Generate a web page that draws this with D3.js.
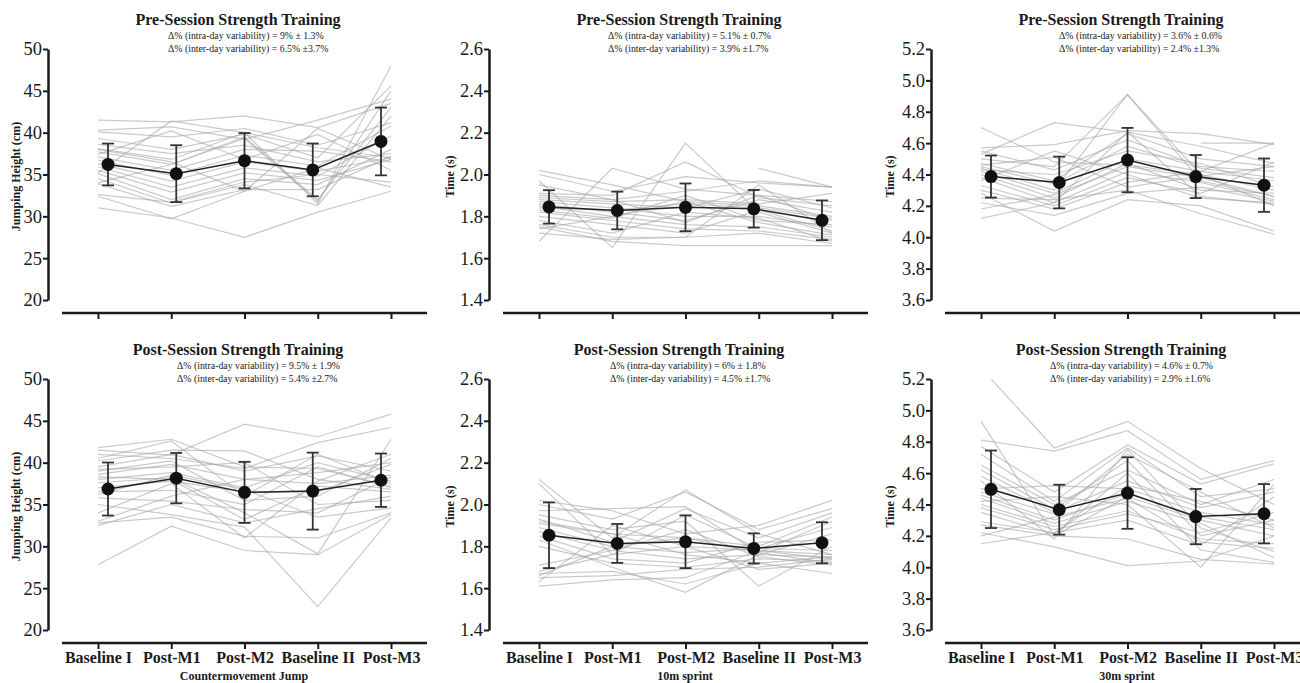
<!DOCTYPE html>
<html lang="en">
<head>
<meta charset="UTF-8">
<title>Intra- and inter-day variability</title>
<script src="https://d3js.org/d3.v7.min.js"></script>
<style>
  body { margin: 0; background: #fff; }
  svg, svg text { font-family: "Liberation Serif", "DejaVu Serif", "Times New Roman", serif; }
</style>
</head>
<body>
<svg id="chart" width="1300" height="683"></svg>
<script>
// categories & ticks
var categories = ["Baseline I", "Post-M1", "Post-M2", "Baseline II", "Post-M3"];
var cmjTicks = [20, 25, 30, 35, 40, 45, 50];
var sprint10Ticks = [1.4, 1.6, 1.8, 2.0, 2.2, 2.4, 2.6];
var sprint30Ticks = [3.6, 3.8, 4.0, 4.2, 4.4, 4.6, 4.8, 5.0, 5.2];

// group means and SD
var cmjPreMean = [36.2, 35.1, 36.65, 35.55, 38.95];
var cmjPreSD = [2.5, 3.4, 3.3, 3.15, 4.05];
var cmjPostMean = [36.85, 38.15, 36.45, 36.6, 37.9];
var cmjPostSD = [3.17, 3.01, 3.65, 4.6, 3.19];
var sp10PreMean = [1.845, 1.828, 1.843, 1.836, 1.781];
var sp10PreSD = [0.080, 0.090, 0.114, 0.090, 0.095];
var sp10PostMean = [1.853, 1.814, 1.822, 1.790, 1.817];
var sp10PostSD = [0.157, 0.093, 0.126, 0.072, 0.098];
var sp30PreMean = [4.387, 4.349, 4.492, 4.387, 4.332];
var sp30PreSD = [0.134, 0.165, 0.205, 0.137, 0.170];
var sp30PostMean = [4.497, 4.367, 4.473, 4.323, 4.341];
var sp30PostSD = [0.247, 0.159, 0.228, 0.176, 0.189];

// individual players (BI, M1, M2, BII, M3)
var cmjPre = [
  [41.5, 41.3, 42.0, 40.6, 43.5], [40.3, 40.7, 39.2, 41.5, 44.0], [40.1, 39.5, 40.5, 38.5, 41.2],
  [39.3, 38.0, 39.8, 37.0, 45.6], [38.6, 37.5, 38.5, 36.5, 37.5], [38.1, 36.8, 40.0, 31.5, 48.0],
  [37.7, 36.2, 39.5, 32.0, 43.0], [37.1, 35.5, 38.0, 37.8, 36.5], [36.7, 34.9, 37.3, 36.0, 40.8],
  [36.3, 34.2, 36.5, 35.4, 37.0], [35.9, 33.5, 35.8, 34.8, 39.6], [35.5, 32.9, 35.2, 34.3, 36.8],
  [35.1, 32.0, 34.5, 33.8, 38.0], [34.5, 31.6, 33.8, 31.3, 42.0], [33.9, 31.2, 33.2, 33.2, 37.2],
  [32.6, 31.7, 34.1, 35.0, 34.1], [32.4, 29.7, 33.0, 35.8, 33.5], [31.0, 29.8, 27.5, 30.5, 33.0],
  [37.4, 40.2, 36.8, 39.8, 35.5], [35.2, 41.4, 40.0, 38.2, 37.0], [38.0, 36.5, 33.0, 40.5, 36.8],
  [34.0, 36.2, 39.3, 31.8, 45.0]
];
var cmjPost = [
  [41.8, 42.8, 39.5, 39.3, 37.2], [41.5, 40.9, 44.6, 43.1, 45.8], [41.0, 40.5, 39.3, 42.4, 44.2],
  [40.2, 41.5, 41.4, 38.0, 36.8], [39.5, 41.0, 39.0, 40.8, 39.0], [39.0, 40.2, 35.5, 36.0, 40.5],
  [38.6, 39.8, 38.0, 37.5, 38.5], [38.0, 38.8, 37.0, 40.0, 37.8], [37.6, 38.2, 34.0, 29.1, 42.8],
  [37.0, 37.8, 36.5, 36.5, 39.8], [36.5, 36.7, 35.0, 39.5, 37.0], [35.8, 35.4, 34.4, 34.0, 38.3],
  [35.0, 33.8, 32.3, 22.8, 33.4], [33.0, 36.0, 38.0, 38.8, 40.0], [32.8, 33.5, 31.2, 31.0, 34.0],
  [32.5, 35.0, 32.8, 34.5, 36.0], [27.8, 32.4, 29.5, 29.0, 33.8], [40.5, 42.6, 36.0, 41.0, 37.5],
  [39.2, 39.5, 40.0, 35.0, 35.5], [34.0, 37.5, 31.0, 37.8, 41.0], [36.2, 38.5, 36.8, 33.5, 34.6],
  [38.3, 38.0, 33.2, 37.2, 36.5]
];
var sp10Pre = [
  [2.02, 1.95, 1.87, 1.85, 1.80], [2.00, 1.92, 1.99, 1.96, 1.94], [1.97, 1.65, 2.15, 1.82, 1.72],
  [1.68, 2.03, 1.93, 1.90, 1.78], [1.91, 1.90, 2.06, 1.89, 1.85], [1.90, 1.88, 1.92, 1.97, 1.94],
  [1.89, 1.87, 1.88, 1.86, 1.91], [1.88, 1.86, 1.84, 1.93, 1.84], [1.87, 1.84, 1.80, 1.80, 1.75],
  [1.86, 1.82, 1.78, 1.88, 1.82], [1.85, 1.80, 1.76, 1.75, 1.70], [1.84, 1.83, 1.86, 1.84, 1.79],
  [1.83, 1.79, 1.90, 1.78, 1.76], [1.82, 1.78, 1.74, 1.73, 1.69], [1.80, 1.76, 1.72, 1.83, 1.73],
  [1.78, 1.72, 1.82, 1.79, 1.68], [1.76, 1.70, 1.70, 1.72, 1.67], [1.75, 1.68, 1.66, 1.66, 1.66],
  [1.74, 1.80, 1.87, 1.77, 1.71], [1.72, 1.69, 1.70, 1.95, 1.72], [null, null, null, 2.03, 1.94],
  [1.95, 1.88, 1.77, 1.90, 1.87]
];
var sp10Post = [
  [2.12, 1.84, 2.07, 1.86, 1.76], [2.10, 1.76, 1.80, 1.78, 1.74], [2.02, 1.97, 1.86, 1.90, 2.02],
  [2.00, 1.93, 2.06, 1.88, 1.98], [1.97, 1.98, 1.99, 1.77, 1.72], [1.95, 1.88, 1.92, 1.61, 1.80],
  [1.93, 1.82, 1.98, 1.84, 1.96], [1.91, 1.86, 1.84, 1.80, 1.94], [1.89, 1.80, 1.77, 1.79, 1.89],
  [1.87, 1.78, 1.74, 1.76, 1.86], [1.85, 1.74, 1.72, 1.82, 1.83], [1.83, 1.70, 1.58, 1.76, 1.75],
  [1.80, 1.72, 1.70, 1.74, 1.73], [1.71, 1.78, 1.88, 1.75, 1.71], [1.68, 1.76, 1.95, 1.79, 1.78],
  [1.67, 1.68, 1.62, 1.72, 1.67], [1.66, 1.80, 1.84, 1.77, 1.92], [1.65, 1.66, 1.69, 1.70, 1.74],
  [1.63, 1.90, 1.80, 1.69, 1.72], [1.61, 1.64, 1.65, 1.78, 1.76], [1.92, 1.86, 1.76, 1.72, 1.75]
];
var sp30Pre = [
  [4.70, 4.48, 4.46, 4.40, 4.30], [4.57, 4.59, 4.68, 4.66, 4.59], [4.55, 4.43, 4.62, 4.45, 4.42],
  [4.53, 4.73, 4.67, 4.58, 4.47], [4.50, 4.45, 4.91, 4.40, 4.20], [4.47, 4.36, 4.66, 4.50, 4.45],
  [4.45, 4.34, 4.58, 4.44, 4.38], [4.44, 4.30, 4.91, 4.36, 4.26], [4.43, 4.40, 4.55, 4.47, 4.32],
  [4.42, 4.28, 4.50, 4.42, 4.60], [4.40, 4.25, 4.47, 4.30, 4.28], [4.38, 4.22, 4.42, 4.35, 4.24],
  [4.36, 4.55, 4.40, 4.25, 4.22], [4.33, 4.20, 4.38, 4.28, 4.48], [4.30, 4.18, 4.35, 4.42, 4.36],
  [4.28, 4.04, 4.24, 4.20, 4.04], [4.25, 4.24, 4.30, 4.15, 4.02], [4.22, 4.14, 4.28, 4.32, 4.23],
  [4.18, 4.27, 4.45, 4.38, 4.26], [4.12, 4.22, 4.67, 4.26, 4.21], [null, null, null, 4.60, 4.60],
  [4.46, 4.51, 4.32, 4.39, 4.45]
];
var sp30Post = [
  [5.27, 4.76, 4.93, 4.63, 4.40], [4.93, 4.20, 4.45, 4.30, 4.20], [4.81, 4.74, 4.87, 4.56, 4.68],
  [4.77, 4.48, 4.78, 4.53, 4.66], [4.72, 4.42, 4.76, 4.45, 4.50], [4.65, 4.40, 4.62, 4.40, 4.56],
  [4.62, 4.37, 4.68, 4.20, 4.30], [4.58, 4.35, 4.55, 4.38, 4.48], [4.55, 4.18, 4.75, 4.25, 4.10],
  [4.50, 4.52, 4.50, 4.35, 4.27], [4.46, 4.30, 4.47, 4.32, 4.24], [4.44, 4.28, 4.42, 4.28, 4.06],
  [4.42, 4.45, 4.40, 4.00, 4.53], [4.40, 4.26, 4.36, 4.18, 4.15], [4.38, 4.24, 4.34, 4.22, 4.35],
  [4.35, 4.21, 4.60, 4.11, 4.03], [4.29, 4.22, 4.30, 4.14, 4.45], [4.27, 4.20, 4.18, 4.05, 4.02],
  [4.22, 4.13, 4.01, 4.04, 4.20], [4.15, 4.22, 4.52, 4.42, 4.30], [4.20, 4.32, 4.44, 4.16, 4.12],
  [4.48, 4.34, 4.72, 4.48, 4.25]
];

var preTitle = "Pre-Session Strength Training";
var postTitle = "Post-Session Strength Training";
var cmjNotes = [["Δ% (intra-day variability) = 9% ± 1.3%", "Δ% (inter-day variability) = 6.5% ±3.7%"],
                ["Δ% (intra-day variability) = 9.5% ± 1.9%", "Δ% (inter-day variability) = 5.4% ±2.7%"]];
var sp10Notes = [["Δ% (intra-day variability) = 5.1% ± 0.7%", "Δ% (inter-day variability) = 3.9% ±1.7%"],
                 ["Δ% (intra-day variability) = 6% ± 1.8%", "Δ% (inter-day variability) = 4.5% ±1.7%"]];
var sp30Notes = [["Δ% (intra-day variability) = 3.6% ± 0.6%", "Δ% (inter-day variability) = 2.4% ±1.3%"],
                 ["Δ% (intra-day variability) = 4.6% ± 0.7%", "Δ% (inter-day variability) = 2.9% ±1.6%"]];
var testNames = ["Countermovement Jump", "10m sprint", "30m sprint"];

// layout
var colX = [48, 489, 931];
var rowTop = [49, 379];
var rowBottom = [300, 630];
var yLabelX = [16, 450, 890];
var serif = "'Liberation Serif', 'DejaVu Serif', serif";

var panels = [
  {row: 0, col: 0, title: preTitle, notes: cmjNotes[0], noteX: 120, yLabel: "Jumping Height (cm)", dom: [20, 50], ticks: cmjTicks, fmt: d3.format("d"), subj: cmjPre, mean: cmjPreMean, sd: cmjPreSD},
  {row: 0, col: 1, title: preTitle, notes: sp10Notes[0], noteX: 119, yLabel: "Time (s)", dom: [1.4, 2.6], ticks: sprint10Ticks, fmt: d3.format(".1f"), subj: sp10Pre, mean: sp10PreMean, sd: sp10PreSD},
  {row: 0, col: 2, title: preTitle, notes: sp30Notes[0], noteX: 128, yLabel: "Time (s)", dom: [3.6, 5.2], ticks: sprint30Ticks, fmt: d3.format(".1f"), subj: sp30Pre, mean: sp30PreMean, sd: sp30PreSD},
  {row: 1, col: 0, title: postTitle, notes: cmjNotes[1], noteX: 129, yLabel: "Jumping Height (cm)", dom: [20, 50], ticks: cmjTicks, fmt: d3.format("d"), subj: cmjPost, mean: cmjPostMean, sd: cmjPostSD},
  {row: 1, col: 1, title: postTitle, notes: sp10Notes[1], noteX: 121, yLabel: "Time (s)", dom: [1.4, 2.6], ticks: sprint10Ticks, fmt: d3.format(".1f"), subj: sp10Post, mean: sp10PostMean, sd: sp10PostSD},
  {row: 1, col: 2, title: postTitle, notes: sp30Notes[1], noteX: 119, yLabel: "Time (s)", dom: [3.6, 5.2], ticks: sprint30Ticks, fmt: d3.format(".1f"), subj: sp30Post, mean: sp30PostMean, sd: sp30PostSD}
];

var svg = d3.select("#chart");
var ink = "#1a1a1a";

panels.forEach(function(p, k) {
  var ax = colX[p.col], top = rowTop[p.row], bot = rowBottom[p.row];
  var g = svg.append("g");

  var y = d3.scaleLinear().domain(p.dom).range([bot, top]);
  var xs = d3.scalePoint().domain(categories).range([ax + 50, ax + 343]);
  var xm = d3.scalePoint().domain(categories).range([ax + 60, ax + 333]);

  svg.append("clipPath").attr("id", "clip" + k)
    .append("rect").attr("x", ax).attr("y", top).attr("width", 400).attr("height", bot - top);

  // individual players
  var line = d3.line()
    .defined(function(d) { return d != null; })
    .x(function(d, i) { return xs(categories[i]); })
    .y(function(d) { return y(d); });
  g.append("g").attr("clip-path", "url(#clip" + k + ")")
    .selectAll("path").data(p.subj).enter().append("path")
    .attr("d", line)
    .attr("fill", "none")
    .attr("stroke", "#a6a6a6")
    .attr("stroke-opacity", 0.6)
    .attr("stroke-width", 1.2);

  // y axis
  var yAxis = g.append("g")
    .attr("transform", "translate(" + ax + ",0)")
    .call(d3.axisLeft(y).tickValues(p.ticks).tickFormat(p.fmt).tickSize(5).tickSizeOuter(0).tickPadding(1));
  yAxis.attr("font-family", serif).attr("font-size", null);
  yAxis.select(".domain").attr("stroke", ink).attr("stroke-width", 2.5);
  yAxis.selectAll(".tick line").attr("stroke", ink).attr("stroke-width", 2);
  yAxis.selectAll(".tick text").attr("fill", ink).style("font-size", "18.5px");

  // x axis
  var xAxis = g.append("g")
    .attr("transform", "translate(0," + (bot + 13) + ")")
    .call(d3.axisBottom(xs).tickSize(6).tickSizeOuter(0).tickPadding(3));
  xAxis.attr("font-family", serif).attr("font-size", null);
  xAxis.select(".domain").remove();
  xAxis.selectAll(".tick line").attr("stroke", ink).attr("stroke-width", 2);
  g.append("line")
    .attr("x1", ax + 14).attr("x2", ax + 379)
    .attr("y1", bot + 13).attr("y2", bot + 13)
    .attr("stroke", ink).attr("stroke-width", 2.5);
  if (p.row === 0) {
    xAxis.selectAll(".tick text").remove();
  } else {
    xAxis.selectAll(".tick text").attr("fill", ink)
      .style("font-size", "16px").style("font-weight", "bold");
    g.append("text")
      .attr("x", ax + 196).attr("y", 680)
      .attr("text-anchor", "middle")
      .style("font-size", "12px").style("font-weight", "bold")
      .attr("fill", ink)
      .text(testNames[p.col]);
  }

  // error bars
  var eb = g.append("g").selectAll("g").data(p.mean).enter().append("g");
  eb.append("line")
    .attr("x1", function(d, i) { return xm(categories[i]); })
    .attr("x2", function(d, i) { return xm(categories[i]); })
    .attr("y1", function(d, i) { return y(d - p.sd[i]); })
    .attr("y2", function(d, i) { return y(d + p.sd[i]); })
    .attr("stroke", "#333").attr("stroke-width", 1.8);
  [-1, 1].forEach(function(s) {
    eb.append("line")
      .attr("x1", function(d, i) { return xm(categories[i]) - 6; })
      .attr("x2", function(d, i) { return xm(categories[i]) + 6; })
      .attr("y1", function(d, i) { return y(d + s * p.sd[i]); })
      .attr("y2", function(d, i) { return y(d + s * p.sd[i]); })
      .attr("stroke", "#333").attr("stroke-width", 1.8);
  });

  // mean line + dots
  g.append("path")
    .datum(p.mean)
    .attr("d", d3.line().x(function(d, i) { return xm(categories[i]); }).y(function(d) { return y(d); }))
    .attr("fill", "none").attr("stroke", "#222").attr("stroke-width", 1.5);
  g.append("g").selectAll("circle").data(p.mean).enter().append("circle")
    .attr("cx", function(d, i) { return xm(categories[i]); })
    .attr("cy", function(d) { return y(d); })
    .attr("r", 6.5)
    .attr("fill", "#111");

  // titles
  g.append("text")
    .attr("x", ax + 190).attr("y", top - 24)
    .attr("text-anchor", "middle")
    .style("font-size", "16px").style("font-weight", "bold")
    .attr("fill", ink)
    .text(p.title);
  g.selectAll(".note").data(p.notes).enter().append("text")
    .attr("x", ax + p.noteX)
    .attr("y", function(d, i) { return top - 10 + i * 12.5; })
    .style("font-size", "9.8px")
    .attr("fill", ink)
    .text(function(d) { return d; });

  g.append("text")
    .attr("transform", "translate(" + yLabelX[p.col] + "," + ((top + bot) / 2 + 2) + ") rotate(-90)")
    .attr("text-anchor", "middle")
    .attr("dominant-baseline", "central")
    .style("font-size", "12px").style("font-weight", "bold")
    .attr("fill", ink)
    .text(p.yLabel);
});
</script>
</body>
</html>
